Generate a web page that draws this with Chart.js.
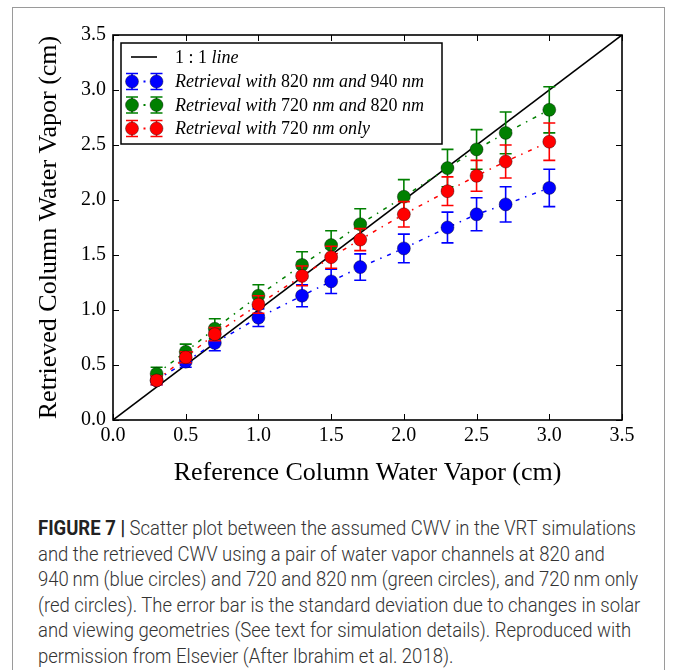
<!DOCTYPE html>
<html>
<head>
<meta charset="utf-8">
<script src="https://cdn.jsdelivr.net/npm/chart.js@4.4.1/dist/chart.umd.min.js"></script>
<style>
  body { margin: 0; background: #fff; width: 675px; height: 670px; overflow: hidden; position: relative; }
  #frame { position: absolute; left: 12px; top: 7px; width: 651px; height: 700px; border: 1.5px solid #9a9a9a; }
  #wrap { position: absolute; left: 0; top: 0; width: 675px; height: 500px; }
  #caption { position: absolute; left: 38px; top: 516px; font-family: "Liberation Sans Narrow", "Roboto", sans-serif;
             font-weight: 300; font-size: 20px; line-height: 25.5px; color: #333; white-space: nowrap; transform-origin: 0 0; }
  #caption b { color: #222; font-weight: 700; }
</style>
</head>
<body>
<div id="frame"></div>
<div id="wrap"><canvas id="cwvChart"></canvas></div>
<div id="caption">
  <div id="capLine1"><b>FIGURE 7 |</b> Scatter plot between the assumed CWV in the VRT simulations</div>
  <div>and the retrieved CWV using a pair of water vapor channels at 820 and</div>
  <div>940&#8201;nm (blue circles) and 720 and 820&#8201;nm (green circles), and 720&#8201;nm only</div>
  <div>(red circles). The error bar is the standard deviation due to changes in solar</div>
  <div>and viewing geometries (See text for simulation details). Reproduced with</div>
  <div>permission from Elsevier (After Ibrahim et al. 2018).</div>
</div>
<script>
// reference CWV (x) and retrieved CWV for each channel setup
const refCWV = [0.3, 0.5, 0.7, 1.0, 1.3, 1.5, 1.7, 2.0, 2.3, 2.5, 2.7, 3.0];
const cwv820940 = [0.36, 0.53, 0.70, 0.93, 1.13, 1.26, 1.39, 1.56, 1.75, 1.87, 1.96, 2.11];
const err820940 = [0.04, 0.05, 0.07, 0.08, 0.10, 0.11, 0.12, 0.13, 0.14, 0.15, 0.16, 0.17];
const cwv720820 = [0.42, 0.62, 0.83, 1.13, 1.41, 1.59, 1.78, 2.03, 2.29, 2.46, 2.61, 2.82];
const err720820 = [0.06, 0.07, 0.09, 0.10, 0.12, 0.13, 0.14, 0.155, 0.17, 0.18, 0.19, 0.21];
const cwv720 = [0.36, 0.57, 0.78, 1.05, 1.31, 1.48, 1.64, 1.87, 2.08, 2.22, 2.35, 2.53];
const err720 = [0.04, 0.05, 0.06, 0.08, 0.09, 0.10, 0.10, 0.115, 0.13, 0.14, 0.15, 0.17];
const oneToOne = [0, 3.5];
const axisTicks = [0, 0.5, 1.0, 1.5, 2.0, 2.5, 3.0, 3.5];

const serif = "'Liberation Serif', 'DejaVu Serif', serif";

function pts(xs, ys) {
  return xs.map((x, i) => ({ x: x, y: ys[i] }));
}

function series(label, color, ys, errs, order) {
  return {
    label: label,
    data: pts(refCWV, ys),
    errors: errs,
    borderColor: color,
    backgroundColor: color,
    borderWidth: 1.5,
    borderDash: [4, 6, 1.5, 6],
    pointRadius: 6.5,
    pointHoverRadius: 6.5,
    pointBackgroundColor: color,
    pointBorderColor: "rgba(0,0,0,0.55)",
    pointBorderWidth: 0.7,
    showLine: true,
    order: order,
  };
}

// legend entries: [text, italic] pieces, like matplotlib mathtext
const legendItems = [
  { color: "#000", line: true, parts: [["1 : 1 ", false], ["line", true]] },
  { color: "#0000ff", parts: [["Retrieval with ", true], ["820", false], [" nm and ", true], ["940", false], [" nm", true]] },
  { color: "#008000", parts: [["Retrieval with ", true], ["720", false], [" nm and ", true], ["820", false], [" nm", true]] },
  { color: "#ff0000", parts: [["Retrieval with ", true], ["720", false], [" nm only", true]] },
];

function drawErrorBar(ctx, x, yTop, yBot, color) {
  ctx.strokeStyle = color;
  ctx.lineWidth = 1.6;
  ctx.beginPath();
  ctx.moveTo(x, yTop); ctx.lineTo(x, yBot);
  ctx.moveTo(x - 6, yTop); ctx.lineTo(x + 6, yTop);
  ctx.moveTo(x - 6, yBot); ctx.lineTo(x + 6, yBot);
  ctx.stroke();
}

const errorBarPlugin = {
  id: "errorBars",
  beforeDatasetDraw(chart, args) {
    const ds = chart.data.datasets[args.index];
    if (!ds.errors) return;
    const xs = chart.scales.x, ys = chart.scales.y, ctx = chart.ctx;
    ctx.save();
    ds.data.forEach((p, i) => {
      const px = xs.getPixelForValue(p.x);
      drawErrorBar(ctx, px, ys.getPixelForValue(p.y + ds.errors[i]), ys.getPixelForValue(p.y - ds.errors[i]), ds.borderColor);
    });
    ctx.restore();
  },
};

const frameAndLegend = {
  id: "frameAndLegend",
  afterDraw(chart) {
    const ctx = chart.ctx, a = chart.chartArea;
    const xs = chart.scales.x, ys = chart.scales.y;
    ctx.save();
    // inward ticks on all four sides
    ctx.strokeStyle = "#000";
    ctx.lineWidth = 1;
    ctx.beginPath();
    axisTicks.forEach(v => {
      const px = Math.round(xs.getPixelForValue(v)) + 0.5;
      ctx.moveTo(px, a.bottom); ctx.lineTo(px, a.bottom - 6);
      ctx.moveTo(px, a.top); ctx.lineTo(px, a.top + 6);
      const py = Math.round(ys.getPixelForValue(v)) + 0.5;
      ctx.moveTo(a.left, py); ctx.lineTo(a.left + 6, py);
      ctx.moveTo(a.right, py); ctx.lineTo(a.right - 6, py);
    });
    ctx.stroke();
    ctx.lineWidth = 1.6;
    ctx.strokeRect(a.left, a.top, a.right - a.left, a.bottom - a.top);

    // legend box
    const lx = 121, ly = 43, lw = 321, lh = 101;
    ctx.fillStyle = "#fff";
    ctx.fillRect(lx, ly, lw, lh);
    ctx.lineWidth = 1.5;
    ctx.strokeStyle = "#000";
    ctx.strokeRect(lx, ly, lw, lh);
    const rowY = [57, 81.5, 105, 128.5];
    legendItems.forEach((item, i) => {
      const y = rowY[i];
      if (item.line) {
        ctx.strokeStyle = item.color;
        ctx.lineWidth = 1.6;
        ctx.beginPath(); ctx.moveTo(131, y); ctx.lineTo(157, y); ctx.stroke();
      } else {
        [132, 156.5].forEach(mx => {
          drawErrorBar(ctx, mx, y - 8, y + 8, item.color);
          ctx.fillStyle = item.color;
          ctx.beginPath(); ctx.arc(mx, y, 6.5, 0, Math.PI * 2); ctx.fill();
          ctx.strokeStyle = "rgba(0,0,0,0.55)"; ctx.lineWidth = 0.7; ctx.stroke();
        });
        ctx.fillStyle = item.color;
        ctx.fillRect(143.5, y - 1, 2, 2);
      }
      let tx = 175;
      ctx.fillStyle = "#000";
      ctx.textBaseline = "middle";
      item.parts.forEach(([txt, it]) => {
        ctx.font = (it ? "italic " : "") + "18px " + serif;
        ctx.fillText(txt, tx, y + 1);
        tx += ctx.measureText(txt).width;
      });
    });
    ctx.restore();
  },
};

const ctx = document.getElementById("cwvChart").getContext("2d");
const cwvChart = new Chart(ctx, {
  type: "scatter",
  data: {
    datasets: [
      {
        label: "1:1 line",
        data: pts(oneToOne, oneToOne),
        showLine: true,
        borderColor: "#000",
        borderWidth: 1.6,
        pointRadius: 0,
        order: 3,
      },
      series("Retrieval with 820 nm and 940 nm", "#0000ff", cwv820940, err820940, 2),
      series("Retrieval with 720 nm and 820 nm", "#008000", cwv720820, err720820, 1),
      series("Retrieval with 720 nm only", "#ff0000", cwv720, err720, 0),
    ],
  },
  options: {
    responsive: true,
    maintainAspectRatio: false,
    animation: false,
    events: [],
    layout: { padding: { left: 0, top: 35, right: 53, bottom: 0 } },
    plugins: { legend: { display: false }, tooltip: { enabled: false } },
    scales: {
      x: {
        type: "linear",
        min: 0,
        max: 3.5,
        afterBuildTicks: s => { s.ticks = axisTicks.map(v => ({ value: v })); },
        afterFit: s => { s.height = 80; },
        ticks: { font: { family: serif, size: 20 }, color: "#000", padding: 4, maxRotation: 0, callback: v => v.toFixed(1) },
        grid: { display: false, drawTicks: false },
        border: { display: false },
        title: { display: true, text: "Reference Column Water Vapor (cm)", color: "#000",
                 font: { family: serif, size: 26 }, padding: { top: 0, bottom: 11 } },
      },
      y: {
        type: "linear",
        min: 0,
        max: 3.5,
        afterBuildTicks: s => { s.ticks = axisTicks.map(v => ({ value: v })); },
        afterFit: s => { s.width = 113; },
        ticks: { font: { family: serif, size: 20 }, color: "#000", padding: 7, callback: v => v.toFixed(1) },
        grid: { display: false, drawTicks: false },
        border: { display: false },
        title: { display: true, text: "Retrieved Column Water Vapor (cm)", color: "#000",
                 font: { family: serif, size: 26 }, padding: { top: 34, bottom: 0 } },
      },
    },
  },
  plugins: [errorBarPlugin, frameAndLegend],
});

// squeeze the caption so its first line spans the same width as in the figure
const cap = document.getElementById("caption");
const line1 = document.getElementById("capLine1");
const range = document.createRange();
range.selectNodeContents(line1);
const realW = range.getBoundingClientRect().width;
cap.style.transform = "scaleX(" + (598 / realW).toFixed(4) + ")";
</script>
</body>
</html>
